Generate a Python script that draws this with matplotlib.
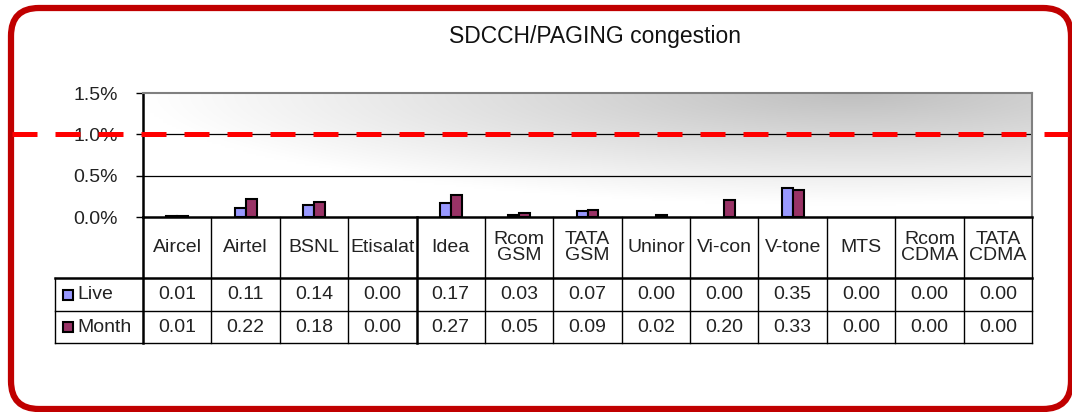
import numpy as np
import matplotlib
matplotlib.use("Agg")
import matplotlib.pyplot as plt
from matplotlib.patches import FancyBboxPatch, Rectangle
from matplotlib.lines import Line2D
from matplotlib.transforms import IdentityTransform, blended_transform_factory

plt.rcParams['font.family'] = ['Liberation Sans', 'DejaVu Sans']

# data (values in %)
operators = ['Aircel', 'Airtel', 'BSNL', 'Etisalat', 'Idea', 'Rcom\nGSM', 'TATA\nGSM',
             'Uninor', 'Vi-con', 'V-tone', 'MTS', 'Rcom\nCDMA', 'TATA\nCDMA']
live = [0.01, 0.11, 0.14, 0.00, 0.17, 0.03, 0.07, 0.00, 0.00, 0.35, 0.00, 0.00, 0.00]
month = [0.01, 0.22, 0.18, 0.00, 0.27, 0.05, 0.09, 0.02, 0.20, 0.33, 0.00, 0.00, 0.00]
threshold = 1.0
title = 'SDCCH/PAGING congestion'

W, H = 1072, 412
fig = plt.figure(figsize=(W / 100, H / 100), dpi=100)

# plot area in pixels
px0, px1, py_top, py_bot = 143, 1032, 93, 217
ax = fig.add_axes([px0 / W, 1 - py_bot / H, (px1 - px0) / W, (py_bot - py_top) / H])

n = len(operators)
x = np.arange(n)

# background gradient
gx, gy = np.meshgrid(np.linspace(0, 1, 200), np.linspace(1, 0, 60))
d = np.sqrt(((gx - 0.8) / 0.8) ** 2 + ((gy - 1.0) / 0.9) ** 2)
gray = 0.75 + 0.25 * np.clip(d, 0, 1)
ax.imshow(np.dstack([gray, gray, gray]), extent=[-0.5, n - 0.5, 0, 1.5],
          aspect='auto', zorder=0, interpolation='bilinear')

ax.set_xlim(-0.5, n - 0.5)
ax.set_ylim(0, 1.5)

for yv in [0.5, 1.0]:
    ax.axhline(yv, color='black', lw=0.9, zorder=1)

bw = 0.16
lw_live = [1.5 if v > 0 else 0 for v in live]
lw_month = [1.5 if v > 0 else 0 for v in month]
ax.bar(x - bw / 2, live, bw, color='#9999FF', edgecolor='black', lw=lw_live, zorder=3)
ax.bar(x + bw / 2, month, bw, color='#993366', edgecolor='black', lw=lw_month, zorder=3)

ax.set_yticks([0, 0.5, 1.0, 1.5])
ax.set_yticklabels(['%.1f%%' % v for v in [0, 0.5, 1.0, 1.5]], fontsize=14, color='#222222')
ax.tick_params(axis='y', length=5, width=1, pad=13)
ax.set_xticks([])
for s in ['top', 'right']:
    ax.spines[s].set_color('#808080')
    ax.spines[s].set_linewidth(1.5)
for s in ['left', 'bottom']:
    ax.spines[s].set_color('black')
    ax.spines[s].set_linewidth(1.8)

# table under the chart
tr = blended_transform_factory(ax.transData, ax.transAxes)
ah = py_bot - py_top


def yf(py):
    return (py_bot - py) / ah


cw = (px1 - px0) / n
xleg = -0.5 - (px0 - 55) / cw
y_head, y_live, y_month = yf(278), yf(311), yf(343)

for i in range(n + 1):
    xb = i - 0.5
    lw = 1.8 if i in (0, 4) else 1.0
    ax.add_line(Line2D([xb, xb], [0, y_month], transform=tr, color='black', lw=lw, clip_on=False))
ax.add_line(Line2D([xleg, xleg], [y_head, y_month], transform=tr, color='black', lw=1.0, clip_on=False))
ax.add_line(Line2D([xleg, n - 0.5], [y_head, y_head], transform=tr, color='black', lw=1.8, clip_on=False))
for yy in [y_live, y_month]:
    ax.add_line(Line2D([xleg, n - 0.5], [yy, yy], transform=tr, color='black', lw=1.0, clip_on=False))

ymid_head = (0 + y_head) / 2
ymid_live = (y_head + y_live) / 2
ymid_month = (y_live + y_month) / 2
for i, name in enumerate(operators):
    ax.text(i, ymid_head, name, transform=tr, ha='center', va='center', fontsize=14,
            linespacing=0.95, color='#222222')
    ax.text(i, ymid_live, '%.2f' % live[i], transform=tr, ha='center', va='center',
            fontsize=14, color='#222222')
    ax.text(i, ymid_month, '%.2f' % month[i], transform=tr, ha='center', va='center',
            fontsize=14, color='#222222')

# legend keys in the table
for ym, col, lab in [(ymid_live, '#9999FF', 'Live'), (ymid_month, '#993366', 'Month')]:
    fig.patches.append(Rectangle((63, H - (py_bot - ym * ah) - 5), 10, 10, transform=IdentityTransform(),
                                 facecolor=col, edgecolor='black', lw=1.5))
    ax.text(xleg + 22 / cw, ym, lab, transform=tr, ha='left', va='center', fontsize=14, color='#222222')

# title
fig.text(595 / W, 1 - 37 / H, title, ha='center', va='center', fontsize=16.5, color='#111111')

# red dashed threshold line across the whole figure
yline = 1 - 134 / H
fig.add_artist(Line2D([12 / W, 1], [yline, yline], transform=fig.transFigure, color='#FF0000',
                      lw=3.6, dashes=(5, 3.6), zorder=10))

# rounded border
fig.patches.append(FancyBboxPatch((11, 3), 1060, 401, boxstyle='round,pad=0,rounding_size=28',
                                  transform=IdentityTransform(), facecolor='none',
                                  edgecolor='#C00000', lw=4.5))

fig.savefig('out.png', dpi=100)
